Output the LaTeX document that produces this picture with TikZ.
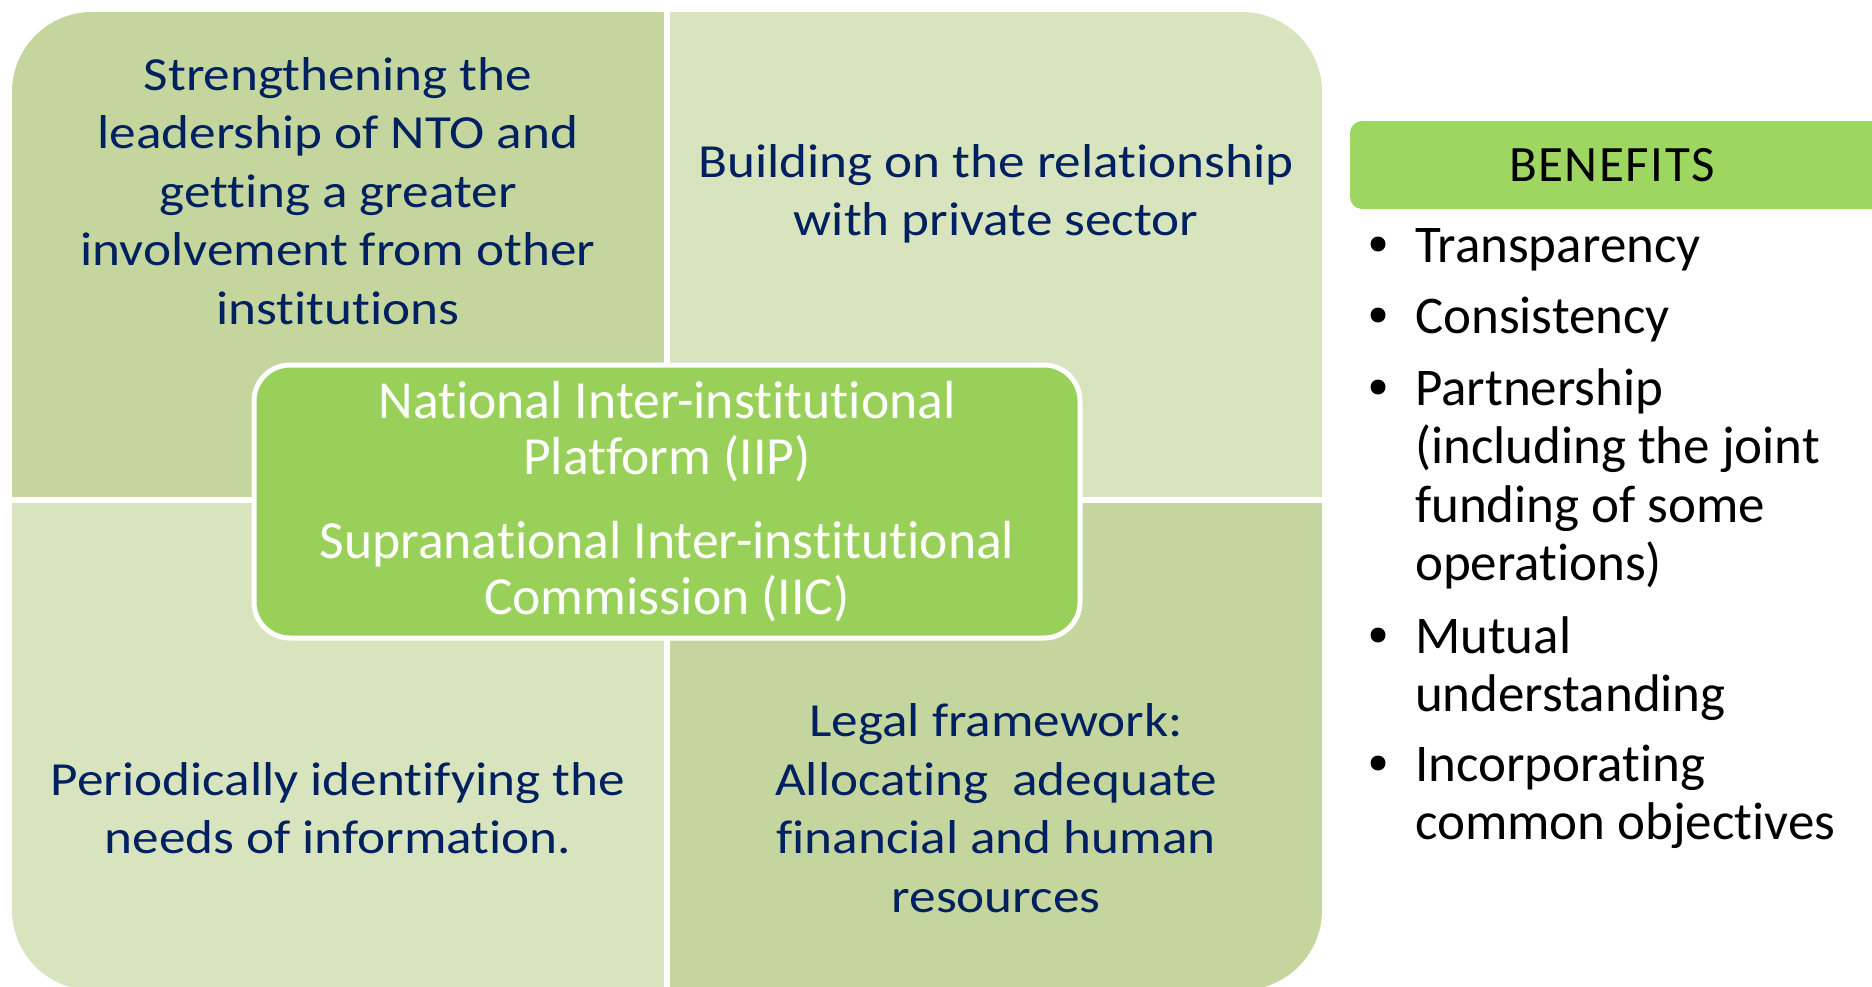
\documentclass[tikz,border=0pt]{standalone}
\usepackage{fontspec}
\setmainfont{Carlito}[Ligatures={NoCommon}]
\newfontfamily\quadfont{Carlito}[FakeStretch=1.12, Ligatures={NoCommon}]
\newfontfamily\headfont{Carlito}[LetterSpace=3, Ligatures={NoCommon}]
\definecolor{qdark}{RGB}{196,214,158}
\definecolor{qlight}{RGB}{216,228,189}
\definecolor{navy}{RGB}{0,32,96}
\definecolor{hubgreen}{RGB}{153,208,90}
\definecolor{headgreen}{RGB}{158,214,98}
\begin{document}
\begin{tikzpicture}[x=0.5pt,y=-0.5pt,
  qtext/.style={text=navy, align=center, font=\quadfont\fontsize{23.75}{29.25}\selectfont},
  hubtext/.style={text=white, align=center, font=\fontsize{26.8}{28}\selectfont},
  bentext/.style={text=black, align=left, anchor=base west, font=\fontsize{26.5}{29.25}\selectfont},
  bulletdot/.style={circle, fill=black, inner sep=0pt, minimum size=7.5pt}]
\useasboundingbox (0,0) rectangle (1872,986);
% quadrant grid
\begin{scope}
  \clip[rounded corners=40pt] (12,12) rectangle (1322,990);
  \fill[qdark]  (12,12)   rectangle (667,500);
  \fill[qlight] (667,12)  rectangle (1322,500);
  \fill[qlight] (12,500)  rectangle (667,990);
  \fill[qdark]  (667,500) rectangle (1322,990);
  \draw[white, line width=3pt] (667,0) -- (667,1000) (0,500) -- (1400,500);
\end{scope}
% quadrant texts
\node[qtext] (tl) at (338,191) {Strengthening the\\leadership of NTO and\\getting a greater\\involvement from other\\institutions};
\node[qtext] (tr) at (996,194) {Building on the relationship\\with private sector};
\node[qtext] (bl) at (338,808) {Periodically identifying the\\needs of information.};
\node[qtext] (br) at (996,808) {Legal framework:\\Allocating~ adequate\\financial and human\\resources};
% central hub
\node[draw=white, line width=2.5pt, fill=hubgreen, rounded corners=18pt,
      minimum width=413pt, minimum height=136.5pt, inner sep=0pt] (hub) at (667,501.5) {};
\node[hubtext] (iip) at (667,432) {National Inter-institutional\\Platform (IIP)};
\node[hubtext] (iic) at (667,571.5) {Supranational Inter-institutional\\Commission (IIC)};
% benefits
\fill[headgreen, rounded corners=6pt] (1350,121) rectangle (1890,209);
\node[font=\headfont\fontsize{25.5}{28}\selectfont, text=black] (benefits) at (1612,165) {BENEFITS};
\node[bulletdot] (b1) at (1378,244) {};
\node[bentext] (t1) at (1408,262) {Transparency};
\node[bulletdot] (b2) at (1378,315) {};
\node[bentext] (t2) at (1408,333) {Consistency};
\node[bulletdot] (b3) at (1378,387) {};
\node[bentext] (t3) at (1408,580.5) {Partnership\\(including the joint\\funding of some\\operations)};
\node[bulletdot] (b4) at (1378,635) {};
\node[bentext] (t4) at (1408,711.5) {Mutual\\understanding};
\node[bulletdot] (b5) at (1378,763) {};
\node[bentext] (t5) at (1408,839.5) {Incorporating\\common objectives};
\end{tikzpicture}
\end{document}
